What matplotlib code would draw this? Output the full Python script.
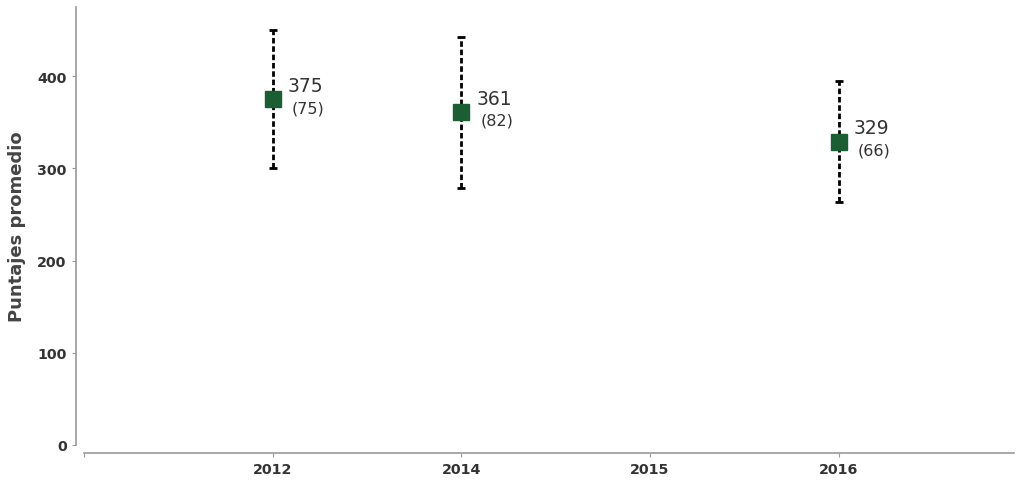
import matplotlib
matplotlib.use("Agg")
import matplotlib.pyplot as plt

plt.rcParams['font.family'] = ['DejaVu Sans']

categories = ["", "2012", "2014", "2015", "2016"]
years = ["2012", "2014", "2016"]
means = [375, 361, 329]
sds = [75, 82, 66]

W, H, DPI = 1016, 485, 100
fig = plt.figure(figsize=(W / DPI, H / DPI), dpi=DPI)
left, right, top, bottom = 84, 1014, 8, 446
ax = fig.add_axes([left / W, 1 - bottom / H, (right - left) / W, (bottom - top) / H])

pos = {c: i for i, c in enumerate(categories)}
xs = [pos[y] for y in years]

eb = ax.errorbar(xs, means, yerr=sds, fmt='none', ecolor='black', elinewidth=2,
                 capsize=3, capthick=2, zorder=2)
for lc in eb[2]:
    lc.set_linestyle((0, (2, 1)))
ax.plot(xs, means, linestyle='none', marker='s', markersize=11.5,
        color='#1b5e34', zorder=3)

for x, m, s in zip(xs, means, sds):
    ax.annotate(str(m), (x, m), xytext=(11, 10), textcoords='offset points',
                fontsize=13.5, color='#333333', va='center', ha='left')
    ax.annotate(f"({s})", (x, m), xytext=(14, -6), textcoords='offset points',
                fontsize=11.5, color='#333333', va='center', ha='left')

ax.set_xlim(0, 4.93)
ax.set_ylim(0, 475)
ax.set_xticks(range(len(categories)))
ax.set_xticklabels(categories)
ax.set_yticks([0, 100, 200, 300, 400])

for sp in ['top', 'right']:
    ax.spines[sp].set_visible(False)
for sp in ['left', 'bottom']:
    ax.spines[sp].set_color('#999999')
    ax.spines[sp].set_linewidth(1.2)
    ax.spines[sp].set_position(('outward', 6))

ax.tick_params(axis='both', colors='#999999', length=3, labelcolor='#333333',
               labelsize=10.3)
for lbl in ax.get_xticklabels() + ax.get_yticklabels():
    lbl.set_fontweight('bold')

ax.set_ylabel("Puntajes promedio", fontsize=13, fontweight='bold', color='#444444',
              labelpad=8)

fig.savefig("out.png", dpi=DPI)
